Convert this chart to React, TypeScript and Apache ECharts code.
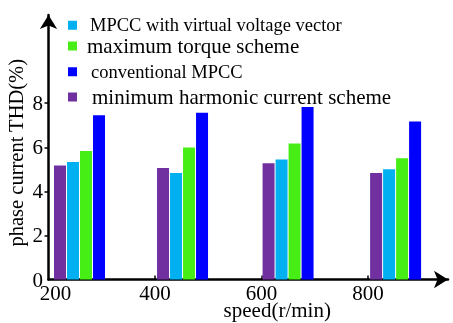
import React, { useEffect, useRef } from "react";
import * as echarts from "echarts";

const speeds = [200, 400, 600, 800];
const seriesNames = [
  "minimum harmonic current scheme",
  "MPCC with virtual voltage vector",
  "maximum torque scheme",
  "conventional MPCC",
];
const minHarmonic = [5.17, 5.06, 5.27, 4.83];
const mpccVirtual = [5.33, 4.83, 5.44, 5.0];
const maxTorque = [5.83, 5.99, 6.17, 5.5];
const conventional = [7.45, 7.56, 7.83, 7.17];
const yTickLabels = [0, 2, 4, 6, 8];
const xTickLabels = [200, 400, 600, 800];

const seriesValues = [minHarmonic, mpccVirtual, maxTorque, conventional];
const colors = ["#7030A0", "#00B0F0", "#46EE16", "#0000FF"];
const groupShiftPx = [5.5, 2, 1, 2];
const FONT = '"Liberation Serif", "Times New Roman", serif';

export default function App() {
  const ref = useRef<HTMLDivElement>(null);
  useEffect(() => {
    if (!ref.current) return;
    const chart = echarts.init(ref.current, undefined, { renderer: "svg" });

    const series = seriesValues.map((vals, si) => ({
      type: "custom",
      name: seriesNames[si],
      itemStyle: { color: colors[si] },
      data: speeds.map((s, i) => [s, vals[i]]),
      renderItem: (params: any, api: any) => {
        const x = api.value(0);
        const y = api.value(1);
        const top = api.coord([x, y]);
        const base = api.coord([x, 0]);
        const left = base[0] + groupShiftPx[params.dataIndex] + si * 13;
        return {
          type: "rect",
          shape: { x: left, y: top[1], width: 12, height: base[1] - top[1] },
          style: { fill: colors[si] },
        };
      },
    }));

    const legendRows = [
      { name: seriesNames[1], top: 15.75, size: 18.5, pad: 8 },
      { name: seriesNames[2], top: 35.5, size: 21, pad: 5 },
      { name: seriesNames[3], top: 62.25, size: 18.5, pad: 9 },
      { name: seriesNames[0], top: 86.5, size: 21, pad: 10 },
    ];

    chart.setOption({
      animation: false,
      textStyle: { fontFamily: FONT, color: "#000" },
      grid: { left: 48.5, right: 5, top: 15, bottom: 43.5, containLabel: false, outerBoundsMode: "none" },
      legend: legendRows.map((r) => ({
        data: [{ name: r.name, icon: "rect" }],
        left: 68,
        top: r.top,
        padding: 0,
        itemWidth: 9,
        itemHeight: 9,
        selectedMode: false,
        textStyle: { fontFamily: FONT, fontSize: r.size, color: "#000", padding: [0, 0, 0, r.pad] },
      })),
      xAxis: {
        type: "value",
        min: 200,
        max: 950,
        interval: 200,
        name: "speed(r/min)",
        nameLocation: "middle",
        nameGap: 20,
        nameMoveOverlap: false,
        nameTextStyle: { fontFamily: FONT, fontSize: 21, color: "#000", padding: [0, 0, 0, 58] },
        splitLine: { show: false },
        axisLine: {
          lineStyle: { color: "#000", width: 2.5 },
          symbol: ["none", "arrow"],
          symbolSize: [13, 14],
        },
        axisTick: { inside: true, length: 4, lineStyle: { color: "#000", width: 1.5 }, customValues: [400, 600, 800] },
        axisLabel: {
          customValues: xTickLabels,
          fontFamily: FONT,
          fontSize: 21,
          color: "#000",
          margin: 3,
          formatter: (v: number) => (v === 200 ? "{a|" + v + "}" : String(v)),
          rich: { a: { fontFamily: FONT, fontSize: 21, color: "#000", padding: [0, 0, 0, 14] } },
        },
      },
      yAxis: {
        type: "value",
        min: 0,
        max: 12,
        interval: 2,
        name: "phase current THD(%)",
        nameLocation: "middle",
        nameGap: 22,
        nameMoveOverlap: false,
        nameRotate: 90,
        nameTextStyle: { fontFamily: FONT, fontSize: 20.5, color: "#000", padding: [0, 11, 0, 0] },
        splitLine: { show: false },
        axisLine: {
          show: true,
          lineStyle: { color: "#000", width: 2.5 },
          symbol: ["none", "arrow"],
          symbolSize: [13, 14],
        },
        axisTick: { show: true, inside: false, length: 4, lineStyle: { color: "#000", width: 1.5 }, customValues: [2, 4, 6, 8] },
        axisLabel: { customValues: yTickLabels, fontFamily: FONT, fontSize: 21, color: "#000", margin: 5.5 },
      },
      series,
    } as any);
    return () => chart.dispose();
  }, []);
  return <div ref={ref} style={{ position: "fixed", left: 0, top: 0, width: 453, height: 323 }} />;
}
